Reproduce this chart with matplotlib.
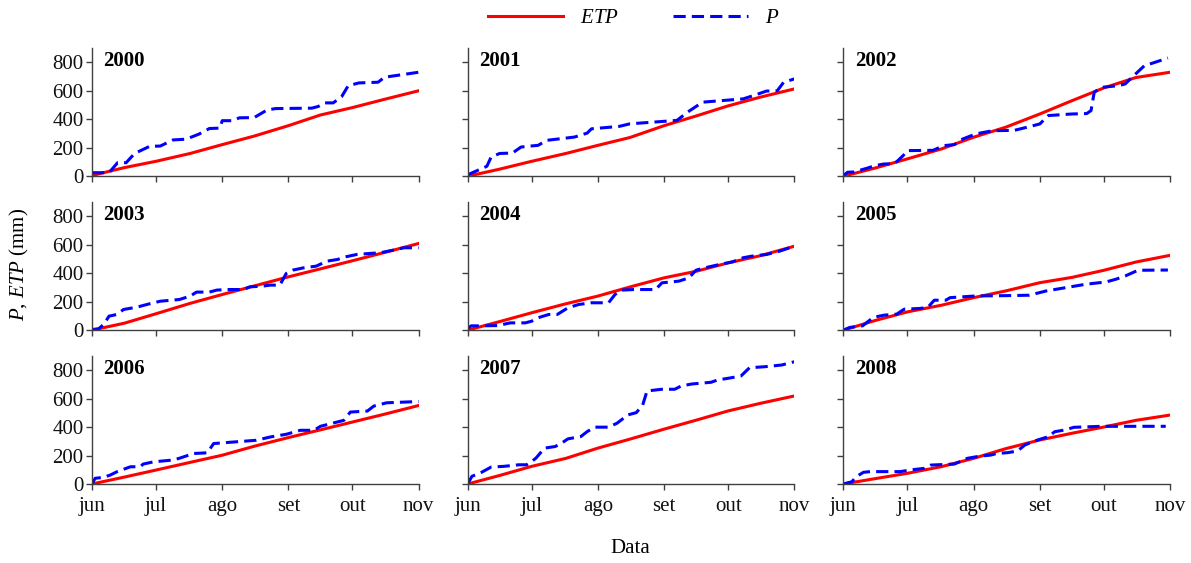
import matplotlib
matplotlib.use('Agg')
import matplotlib.pyplot as plt

plt.rcParams['font.family'] = ['Liberation Serif', 'DejaVu Serif']
plt.rcParams['mathtext.fontset'] = 'custom'
plt.rcParams['mathtext.rm'] = 'Liberation Serif'
plt.rcParams['mathtext.it'] = 'Liberation Serif:italic'

# dias desde 1 de junho
month_days = [0, 30, 61, 92, 122, 153]
month_labels = ['jun', 'jul', 'ago', 'set', 'out', 'nov']
years = ['2000', '2001', '2002', '2003', '2004', '2005', '2006', '2007', '2008']

etp_days = [0, 15, 30, 46, 61, 76, 92, 107, 122, 137, 153]
etp_2000 = [5, 60, 105, 160, 222, 282, 355, 430, 482, 540, 600]
etp_2001 = [0, 50, 105, 160, 217, 272, 355, 423, 494, 555, 613]
etp_2002 = [0, 58, 122, 192, 274, 344, 437, 530, 620, 693, 730]
etp_2003 = [0, 48, 115, 188, 250, 310, 374, 430, 487, 545, 608]
etp_2004 = [0, 60, 122, 185, 239, 303, 367, 413, 472, 522, 589]
etp_2005 = [0, 68, 128, 175, 228, 275, 333, 370, 420, 478, 525]
etp_2006 = [0, 48, 98, 152, 202, 265, 326, 380, 435, 490, 551]
etp_2007 = [0, 60, 124, 180, 252, 315, 385, 448, 513, 566, 618]
etp_2008 = [0, 38, 75, 122, 180, 248, 309, 356, 400, 447, 484]

p_days_2000 = [0, 8, 12, 16, 20, 27, 32, 38, 44, 50, 55, 60, 61, 66, 69, 76, 82, 86, 103, 106, 109, 113, 117, 120, 125, 134, 137, 153]
p_2000 = [25, 25, 95, 95, 160, 210, 212, 255, 260, 295, 335, 338, 390, 390, 410, 412, 465, 475, 478, 490, 515, 515, 560, 635, 655, 660, 695, 730]
p_days_2001 = [0, 3, 9, 11, 15, 21, 25, 28, 33, 37, 50, 56, 58, 71, 76, 98, 103, 110, 129, 134, 140, 145, 148, 153]
p_2001 = [10, 30, 70, 135, 160, 163, 205, 210, 217, 252, 275, 303, 333, 350, 368, 392, 450, 520, 543, 567, 598, 600, 660, 683]
p_days_2002 = [0, 2, 5, 11, 15, 19, 24, 28, 30, 42, 47, 52, 56, 62, 70, 80, 86, 92, 96, 107, 114, 116, 117.5, 121, 129, 132, 136, 141, 145, 152]
p_2002 = [5, 28, 30, 56, 75, 86, 88, 145, 180, 182, 215, 222, 262, 297, 320, 322, 344, 367, 426, 437, 440, 461, 590, 624, 636, 648, 706, 776, 795, 830]
p_days_2003 = [0, 3, 5.5, 8, 11.7, 14.8, 21, 27, 32, 41, 46, 49, 55, 58.5, 63, 71, 74, 80, 83.5, 88, 91, 94, 99, 105, 110, 115, 119, 124, 130, 135, 141, 146, 153]
p_2003 = [5, 8, 40, 98, 110, 145, 161, 185, 203, 215, 239, 267, 267, 281, 285, 285, 304, 309, 316, 316, 398, 421, 437, 449, 484, 496, 515, 531, 538, 543, 561, 578, 578]
p_days_2004 = [0, 1.6, 5, 14, 20, 27, 30, 33, 38, 42, 47, 52, 58, 66, 69, 72, 78, 88, 91, 99, 103.6, 107, 111, 118, 124, 129, 133, 140, 146, 153]
p_2004 = [10, 30, 30, 32, 51, 51, 63, 87, 110, 110, 157, 180, 192, 192, 250, 281, 285, 285, 332, 344, 367, 421, 437, 461, 479, 508, 519, 531, 554, 589]
p_days_2005 = [0, 3, 9, 14, 19, 25, 28.5, 35.6, 39.5, 42.6, 48, 50, 62, 76, 87, 95, 113.5, 123, 127.6, 132, 138, 152]
p_2005 = [0, 19, 30, 89, 105, 112, 147, 152, 159, 210, 210, 228, 240, 242, 245, 275, 322, 338, 357, 380, 420, 422]
p_days_2006 = [0, 1.5, 5.5, 8.6, 11.7, 18, 22.6, 24, 29, 37, 40.6, 47.6, 54, 57, 77, 83.5, 91, 97.6, 104, 107, 118, 121, 129, 132, 138, 153]
p_2006 = [0, 40, 47, 63, 86, 121, 121, 140, 156, 167, 179, 214, 219, 284, 307, 330, 349, 377, 377, 405, 447, 505, 512, 547, 570, 579]
p_days_2007 = [0, 2, 6.5, 11, 17, 24, 27.6, 30, 32, 36, 41, 44, 47, 53, 56, 59.5, 66, 70, 75, 79, 82, 84, 91, 97, 100, 105, 114, 117, 122, 128, 132, 139, 147, 153]
p_2007 = [0, 54, 82, 119, 124, 135, 135, 158, 182, 252, 263, 287, 317, 333, 368, 399, 399, 427, 485, 501, 555, 653, 665, 665, 688, 702, 714, 730, 742, 758, 816, 823, 835, 858]
p_days_2008 = [0, 4, 6, 9.4, 12.5, 26.7, 31, 38, 41, 52, 58, 64, 69, 72, 77, 81.6, 85, 91, 96, 99, 103.6, 108, 121, 130, 136.5, 151]
p_2008 = [0, 16, 51, 82, 87, 87, 98, 110, 133, 140, 180, 196, 203, 215, 220, 232, 274, 309, 332, 367, 379, 398, 405, 405, 405, 405]

etp_all = [etp_2000, etp_2001, etp_2002, etp_2003, etp_2004, etp_2005, etp_2006, etp_2007, etp_2008]
p_days_all = [p_days_2000, p_days_2001, p_days_2002, p_days_2003, p_days_2004, p_days_2005, p_days_2006, p_days_2007, p_days_2008]
p_all = [p_2000, p_2001, p_2002, p_2003, p_2004, p_2005, p_2006, p_2007, p_2008]

fs = 15

fig, axes = plt.subplots(3, 3, figsize=(11.91, 5.63), dpi=100)
fig.subplots_adjust(left=0.0772, right=0.9824, bottom=0.1403, top=0.9147, wspace=0.15, hspace=0.2)

for i, ax in enumerate(axes.flat):
    l1, = ax.plot(etp_days, etp_all[i], color='#ff0000', lw=2.2, label='ETP')
    l2, = ax.plot(p_days_all[i], p_all[i], color='#0000ff', lw=2.2, dashes=(4, 2), label='P')
    ax.set_xlim(0, 153)
    ax.set_ylim(0, 900)
    ax.set_xticks(month_days)
    ax.set_yticks([0, 200, 400, 600, 800])
    ax.spines['top'].set_visible(False)
    ax.spines['right'].set_visible(False)
    for s in ['left', 'bottom']:
        ax.spines[s].set_color('#404040')
        ax.spines[s].set_linewidth(1.0)
    ax.tick_params(direction='out', length=4, width=1, color='#404040', labelsize=fs, labelcolor='#111111')
    ax.tick_params(axis='y', pad=2)
    if i % 3 == 0:
        ax.set_yticklabels(['0', '200', '400', '600', '800'])
    else:
        ax.set_yticklabels([])
    if i >= 6:
        ax.set_xticklabels(month_labels)
        ax.tick_params(axis='x', pad=5)
    else:
        ax.set_xticklabels([])
    ax.text(0.035, 0.975, years[i], transform=ax.transAxes, ha='left', va='top',
            fontsize=fs, fontweight='bold')

fig.legend([l1, l2], [r'$\it{ETP}$', r'$\it{P}$'], loc='center', bbox_to_anchor=(0.532, 0.968),
           ncol=2, frameon=False, fontsize=fs, handlelength=3.6, columnspacing=2.6, handletextpad=0.8)
fig.text(0.016, 0.53, r'$\it{P}$, $\it{ETP}$ (mm)', rotation=90, ha='center', va='center', fontsize=fs)
fig.text(0.529, 0.025, 'Data', ha='center', va='center', fontsize=fs)

plt.savefig('out.png', dpi=100)
